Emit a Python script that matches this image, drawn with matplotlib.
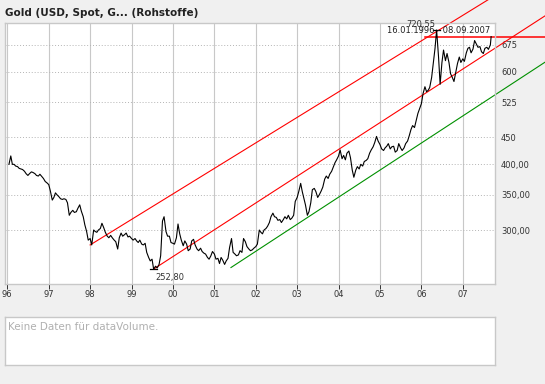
import pandas as pd
import matplotlib
matplotlib.use("Agg")
import matplotlib.pyplot as plt
import matplotlib.dates as mdates
from matplotlib.ticker import FixedLocator, NullLocator, NullFormatter

plt.rcParams["font.family"] = ["DejaVu Sans"]

# -----------------------------
# Data: gold spot USD, about twice a month (1st / 15th)
# -----------------------------
p1996 = [400, 415, 400, 400, 397, 396, 393, 392, 391, 388, 384, 381,
         384, 387, 386, 384, 381, 380, 383, 379, 376, 371, 369]
p1997 = [366, 356, 342, 346, 353, 350, 347, 344, 343, 344, 343, 338,
         320, 324, 327, 324, 325, 330, 335, 326, 318, 307, 298, 287]
p1998 = [289, 281, 300, 298, 297, 300, 302, 309, 303, 297, 292, 290,
         293, 290, 287, 285, 276, 290, 296, 292, 294, 296, 291, 292]
p1999 = [289, 287, 289, 286, 284, 287, 282, 281, 283, 272, 266, 262,
         264, 252.8, 256, 254, 258, 268, 312, 318, 298, 292, 292, 284]
p2000 = [283, 282, 290, 308, 295, 287, 280, 286, 282, 274, 276, 286,
         288, 281, 276, 274, 277, 273, 271, 270, 266, 264, 268, 273]
p2001 = [270, 264, 265, 259, 266, 263, 258, 262, 265, 278, 289, 272,
         270, 268, 269, 274, 272, 289, 285, 279, 276, 274, 275, 277]
p2002 = [279, 282, 300, 297, 295, 300, 302, 305, 310, 318, 323, 318,
         317, 313, 314, 310, 314, 318, 315, 320, 314, 316, 320, 340]
p2003 = [346, 355, 368, 355, 345, 335, 320, 325, 338, 358, 360, 355,
         346, 350, 356, 362, 375, 380, 376, 383, 388, 395, 403, 408]
p2004 = [415, 426, 410, 416, 408, 420, 424, 412, 390, 378, 390, 396,
         392, 400, 397, 405, 407, 410, 420, 426, 432, 440, 452, 443]
p2005 = [436, 428, 425, 430, 433, 438, 428, 432, 433, 422, 425, 438,
         430, 425, 430, 438, 443, 453, 466, 474, 470, 484, 500, 510]
p2006 = [522, 545, 562, 550, 553, 560, 585, 620, 665, 720.55, 640, 568,
         625, 660, 630, 650, 625, 595, 585, 575, 600, 622, 640, 625]
p2007 = [635, 628, 652, 665, 668, 652, 663, 688, 677, 668, 670, 655,
         650, 665, 668, 662, 675]
last_price = 700

first_date = pd.Timestamp("1996-01-16")
last_date = pd.Timestamp("2007-09-08")

prices = (p1996 + p1997 + p1998 + p1999 + p2000 + p2001 + p2002 + p2003
          + p2004 + p2005 + p2006 + p2007)
dates = ([first_date]
         + list(pd.date_range("1996-02-01", periods=len(prices) - 1, freq="SMS"))
         + [last_date])
prices = prices + [last_price]
series = pd.Series(prices, index=pd.DatetimeIndex(dates))

# trend channel lines drawn on the chart (start / end anchor)
upper_red_dates = ["1998-01-01", "2009-01-01"]
upper_red_vals = [281, 961]
lower_red_dates = ["1999-07-15", "2009-01-01"]
lower_red_vals = [252.8, 768]
green_dates = ["2001-05-27", "2009-01-01"]
green_vals = [254.5, 627]
level_dates = ["2006-02-01", "2009-01-01"]

y_ticks = [300, 350, 400, 450, 525, 600, 675]
y_labels = ["300,00", "350,00", "400,00", "450", "525", "600", "675"]

title = "Gold (USD, Spot, G... (Rohstoffe)"


def de(v):
    return f"{v:.2f}".replace(".", ",")


# -----------------------------
# Figure
# -----------------------------
W, H = 545, 384
fig = plt.figure(figsize=(W / 100, H / 100), dpi=100, facecolor="#f0f0f0")
ax = fig.add_axes([5 / W, 100 / H, 490 / W, 261 / H], facecolor="white")

ax.plot(pd.to_datetime(upper_red_dates), upper_red_vals, color="#ff0000", lw=0.8, clip_on=False)
ax.plot(pd.to_datetime(lower_red_dates), lower_red_vals, color="#ff0000", lw=0.8, clip_on=False)
ax.plot(pd.to_datetime(green_dates), green_vals, color="#009000", lw=0.8, clip_on=False)
ax.plot(pd.to_datetime(level_dates), [last_price, last_price], color="#ff0000", lw=1.1, clip_on=False)

ax.plot(series.index, series.values, color="black", lw=0.8)

# max / min markers
hi_d, hi_v = series.idxmax(), series.max()
lo_d, lo_v = series.idxmin(), series.min()
span = pd.Timedelta(days=32)
ax.plot([hi_d - span, hi_d + span], [hi_v, hi_v], color="black", lw=0.9)
ax.plot([lo_d - span, lo_d + span], [lo_v, lo_v], color="black", lw=0.9)
ax.annotate(de(hi_v), (hi_d, hi_v), xytext=(-1, 2), textcoords="offset points",
            ha="right", va="baseline", fontsize=6, color="#333333")
ax.annotate(de(lo_v), (lo_d, lo_v), xytext=(1, -2.5), textcoords="offset points",
            ha="left", va="top", fontsize=6, color="#333333")
ax.text(1 - 5 / 490, 1 - 3 / 261,
        f"{series.index[0]:%d.%m.%Y} - {series.index[-1]:%d.%m.%Y}",
        transform=ax.transAxes, ha="right", va="top", fontsize=6, color="#222222")

# axes
ax.set_yscale("log")
ax.set_ylim(236.8, 743)
ax.set_xlim(pd.Timestamp("1995-12-12"), pd.Timestamp("2007-10-12"))

ax.yaxis.tick_right()
ax.yaxis.set_major_locator(FixedLocator(y_ticks))
ax.yaxis.set_minor_locator(NullLocator())
ax.yaxis.set_minor_formatter(NullFormatter())
ax.set_yticklabels(y_labels)
ax.tick_params(axis="y", length=0, pad=4.3, labelsize=6, labelcolor="#333333")

ax.xaxis.set_major_locator(mdates.YearLocator())
ax.xaxis.set_major_formatter(mdates.DateFormatter("%y"))
ax.tick_params(axis="x", length=3.6, width=0.7, color="#333333", pad=1,
               labelsize=6, labelcolor="#333333")

ax.grid(axis="x", color="#c8c8c8", lw=0.8, ls="-")
ax.grid(axis="y", color="#b4b4b4", lw=0.7, ls=(0, (1, 2)))
ax.set_axisbelow(True)
for s in ax.spines.values():
    s.set_color("#c8c8c8")
    s.set_linewidth(1.0)

fig.text(5 / W, 1 - 16 / H, title, fontsize=7.5, fontweight="bold",
         color="#222222", va="baseline", ha="left")

# empty volume panel
vax = fig.add_axes([5 / W, 19 / H, 490 / W, 48 / H], facecolor="white")
vax.set_xticks([])
vax.set_yticks([])
for s in vax.spines.values():
    s.set_color("#c8c8c8")
    s.set_linewidth(1.0)
vax.text(3 / 490, 1 - 4.5 / 48, "Keine Daten für dataVolume.", transform=vax.transAxes,
         ha="left", va="top", fontsize=7.5, color="#b0b0b0")

fig.savefig("out.png", dpi=100, facecolor=fig.get_facecolor())
